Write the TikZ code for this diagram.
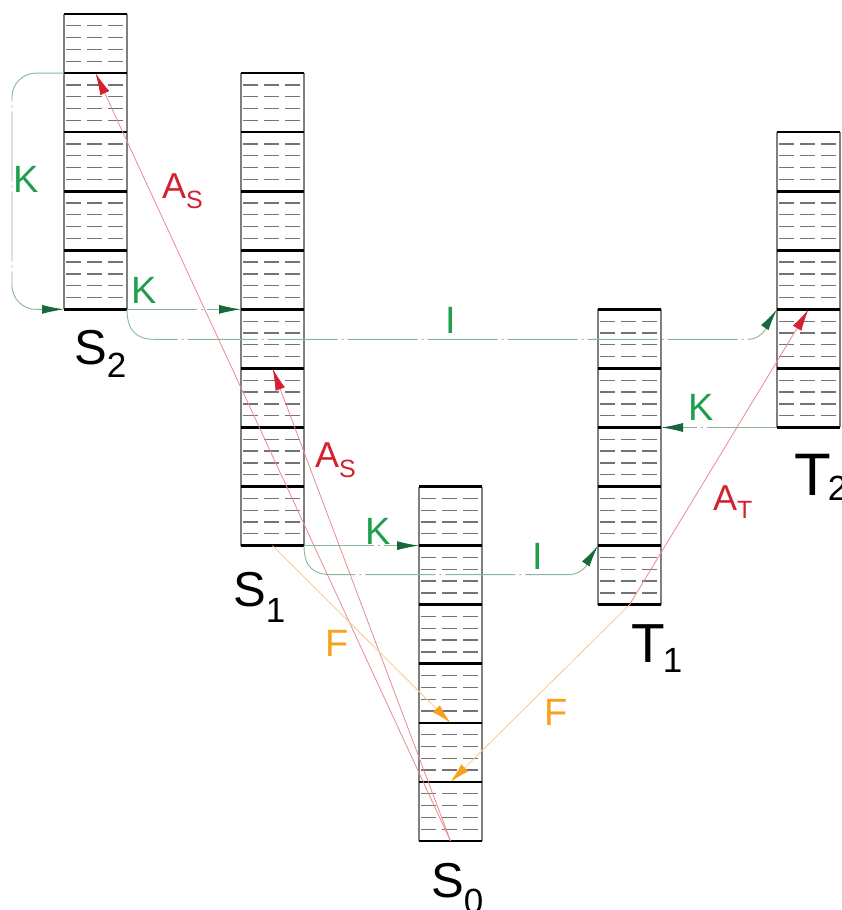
\documentclass[tikz,border=0pt]{standalone}
\usepackage{fontspec}
\setmainfont{Liberation Sans}
\usetikzlibrary{arrows.meta,calc}

\definecolor{kgreen}{HTML}{1F9E4C}
\definecolor{kline}{HTML}{8AB69A}
\definecolor{khead}{HTML}{17693A}
\definecolor{ared}{HTML}{D3212F}
\definecolor{aline}{HTML}{E98A92}
\definecolor{forange}{HTML}{F7A11E}
\definecolor{fline}{HTML}{F9C88A}

% letter with a lowered index
\newcommand{\statename}[3]{#1\raisebox{-#3pt}{\fontsize{35}{35}\selectfont #2}}
\newcommand{\ratename}[3]{#1\raisebox{-#3pt}{\fontsize{25}{25}\selectfont #2}}

\begin{document}
\begin{tikzpicture}[x=1pt, y=-1pt,
    level/.style={line width=2.6pt, black},
    sublevel/.style={line width=1.3pt, black!55, dash pattern=on 15pt off 6pt},
    side/.style={line width=1.2pt, black!50},
    kconv/.style={line width=0.9pt, kline, dash pattern=on 70pt off 4pt on 2pt off 4pt,
        -{Latex[length=22pt,width=9pt,color=khead]}},
    absorb/.style={line width=0.8pt, aline, -{Latex[length=22pt,width=10pt,color=ared]}},
    fluor/.style={line width=0.8pt, fline, -{Latex[length=20pt,width=10pt,color=forange]}},
    statelbl/.style={anchor=base west, inner sep=0pt, font=\fontsize{49}{49}\selectfont},
    ratelbl/.style={anchor=base west, inner sep=0pt, font=\fontsize{38}{38}\selectfont},
  ]
  \useasboundingbox (0,0) rectangle (842,910);

  % the five level ladders
  \foreach \name/\xl/\kt/\kb in {S2/64/0/5, S1/241/1/9, S0/419/8/14, T1/598/5/10, T2/777/2/7} {
    \pgfmathsetmacro\xr{\xl+63}
    \pgfmathsetmacro\xc{\xl+31.5}
    \pgfmathsetmacro\yt{14+59.07*\kt}
    \pgfmathsetmacro\yb{14+59.07*\kb}
    \pgfmathtruncatemacro\kc{\kb-1}
    \foreach \k in {\kt,...,\kc} {
      \foreach \j in {1,...,4} {
        \pgfmathsetmacro\ys{14+59.07*\k+11.81*\j}
        \draw[sublevel] (\xl+2,\ys) -- (\xr-1,\ys);
      }
    }
    \draw[side] (\xl,\yt) -- (\xl,\yb);
    \draw[side] (\xr,\yt) -- (\xr,\yb);
    \foreach \k in {\kt,...,\kb} {
      \pgfmathsetmacro\yl{14+59.07*\k}
      \draw[level] (\xl,\yl) -- (\xr,\yl);
      \coordinate (\name-\k-l) at (\xl,\yl);
      \coordinate (\name-\k-c) at (\xc,\yl);
      \coordinate (\name-\k-r) at (\xr,\yl);
    }
  }

  % absorption
  \draw[absorb] (S0-14-c) -- (S2-1-c);
  \draw[absorb] (S0-14-c) -- (S1-6-c);
  \draw[absorb] (T1-10-c) -- (T2-5-c);

  % fluorescence
  \draw[fluor] (S1-9-c) -- (S0-12-c);
  \draw[fluor] (T1-10-c) -- (S0-13-c);

  % internal conversion
  \draw[kconv, rounded corners=24pt] (S2-1-l) -- ++(-52,0) |- (S2-5-l);
  \draw[kconv] (S2-5-r) -- (S1-5-l);
  \draw[kconv] (S1-9-r) -- (S0-9-l);
  \draw[kconv] (T2-7-l) -- (T1-7-r);

  % intersystem crossing
  \draw[kconv] (S2-5-r) .. controls +(0,22) and +(-18,0) .. ($(S2-5-r)+(28,30)$)
    -- ($(T2-5-l)+(-30,30)$) .. controls +(18,0) and +(-8,12) .. (T2-5-l);
  \draw[kconv] (S1-9-r) .. controls +(0,22) and +(-18,0) .. ($(S1-9-r)+(28,29)$)
    -- ($(T1-9-l)+(-30,29)$) .. controls +(18,0) and +(-8,12) .. (T1-9-l);

  % state names
  \node[statelbl] (s2name) at (74,364) {\statename{S}{2}{13}};
  \node[statelbl] (s1name) at (233,606) {\statename{S}{1}{16}};
  \node[statelbl] (s0name) at (431,897) {\statename{S}{0}{16}};
  \node[statelbl, font=\fontsize{55}{55}\selectfont] (t1name) at (631,662) {T\kern-2pt\statename{}{1}{10}};
  \node[statelbl, font=\fontsize{60}{60}\selectfont] (t2name) at (794,495) {T\kern-3pt\statename{}{2}{5}};

  % rate names
  \node[ratelbl, kgreen] (k1) at (13,192) {K};
  \node[ratelbl, kgreen] (k2) at (131,303) {K};
  \node[ratelbl, kgreen] (k3) at (365,544) {K};
  \node[ratelbl, kgreen] (k4) at (688,420) {K};
  \node[ratelbl, kgreen] (i1) at (445,333) {I};
  \node[ratelbl, kgreen] (i2) at (532,569) {I};
  \node[ratelbl, forange] (f1) at (325,656) {F};
  \node[ratelbl, forange] (f2) at (544,725) {F};
  \node[ratelbl, ared, font=\fontsize{36}{36}\selectfont] (a1) at (162,198) {\ratename{A}{S}{10}};
  \node[ratelbl, ared, font=\fontsize{36}{36}\selectfont] (a2) at (315,467) {\ratename{A}{S}{10}};
  \node[ratelbl, ared, font=\fontsize{36}{36}\selectfont] (a3) at (713,510) {\ratename{A}{T}{8}};
\end{tikzpicture}
\end{document}
